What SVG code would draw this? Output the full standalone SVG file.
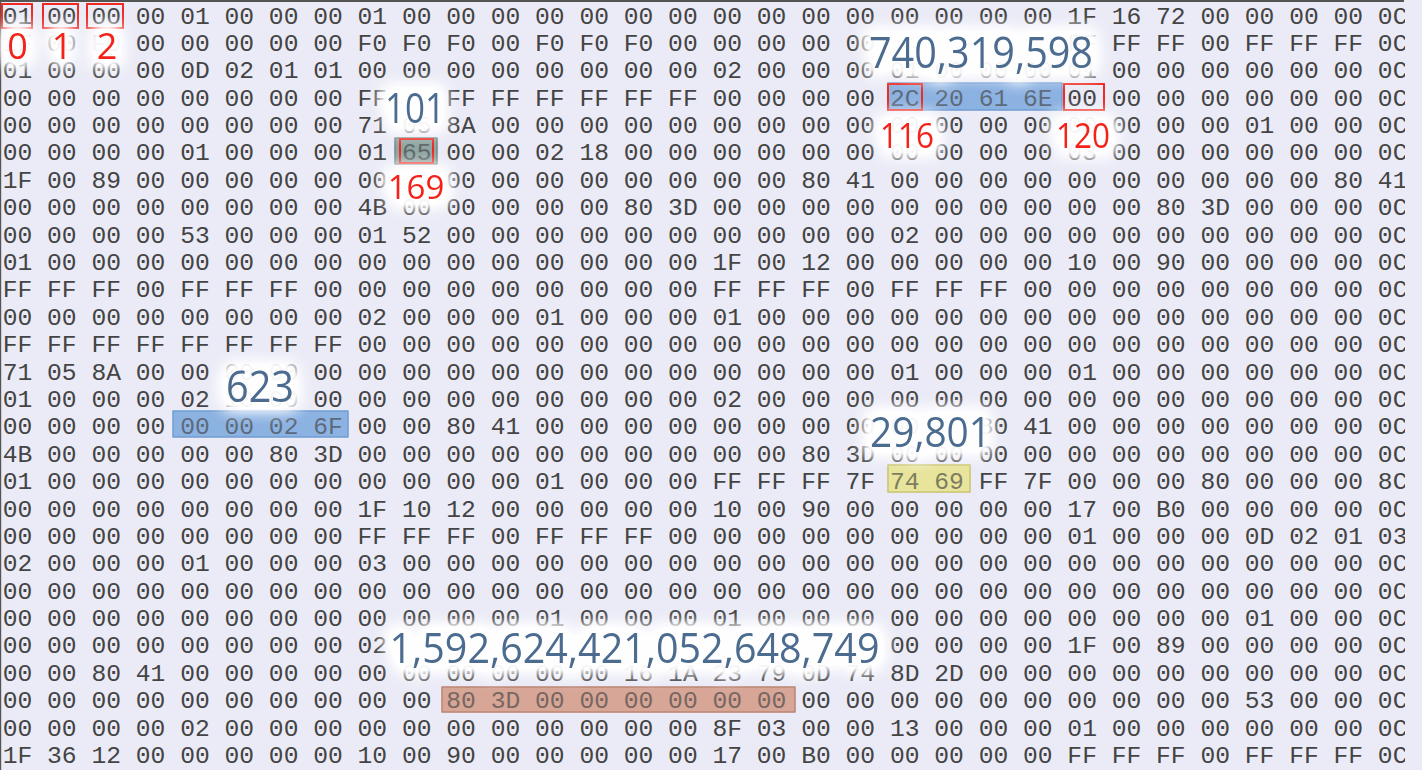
<svg xmlns="http://www.w3.org/2000/svg" width="1422" height="770" viewBox="0 0 1422 770">
  <style>
    .hex { font-family: "Liberation Mono", "DejaVu Sans Mono", monospace; font-size: 24.65px; fill: #444444; }
    .lbl { font-family: "Open Sans", "Noto Sans", "Liberation Sans", sans-serif; text-anchor: middle; }
    .blue { fill: #4b6b8f; }
    .red { fill: #f3231a; }
    .rbox { fill: none; stroke: #ee2a22; stroke-width: 2; }
    .hlBlue { fill: #8cb3e2; stroke: #6f9bd1; stroke-width: 1; }
    .hlGray { fill: #8fa6a4; stroke: #6f8785; stroke-width: 1; }
    .hlYel { fill: #e8e49c; stroke: #c8c26a; stroke-width: 1; }
    .hlBrn { fill: #d7a797; stroke: #b9826f; stroke-width: 1; }
    .tint { fill-opacity: 0.35; }
  </style>
  <defs>
    <clipPath id="clipHex">
      <rect x="0" y="0" width="1405" height="770"/>
    </clipPath>
    <filter id="halo" x="-100%" y="-100%" width="300%" height="300%" color-interpolation-filters="sRGB">
      <feMorphology in="SourceAlpha" operator="dilate" radius="7" result="d"/>
      <feGaussianBlur in="d" stdDeviation="8" result="b"/>
      <feComponentTransfer in="b" result="b2">
        <feFuncA type="linear" slope="1.7"/>
      </feComponentTransfer>
      <feFlood flood-color="#ffffff" flood-opacity="0.95"/>
      <feComposite in2="b2" operator="in" result="w"/>
      <feMerge>
        <feMergeNode in="w"/>
        <feMergeNode in="SourceGraphic"/>
      </feMerge>
    </filter>
  </defs>

  <!-- background and frame -->
  <rect id="background" x="0" y="0" width="1422" height="770" fill="#ebebf7"/>
  <rect id="frame-top" x="0" y="0" width="1404" height="2" fill="#555555"/>
  <rect id="frame-left" x="0" y="0" width="1.2" height="770" fill="#555555"/>

  <!-- highlight fills (under text) -->
  <g id="highlight-fills">
    <rect class="hlBlue" x="888" y="83" width="174" height="27"/>
    <rect class="hlGray" x="395" y="138" width="42" height="26"/>
    <rect class="hlBlue" x="173" y="411" width="175" height="26"/>
    <rect class="hlYel" x="888" y="465" width="82" height="27"/>
    <rect class="hlBrn" x="442" y="687" width="353" height="25"/>
  </g>

  <!-- hex dump rows -->
  <g id="hex-rows" class="hex" clip-path="url(#clipHex)">
    <text x="2.71" y="23.5" xml:space="preserve">01 00 00 00 01 00 00 00 01 00 00 00 00 00 00 00 00 00 00 00 00 00 00 00 1F 16 72 00 00 00 00 0C</text>
    <text x="2.71" y="50.89" xml:space="preserve">1F 00 F0 00 00 00 00 00 F0 F0 F0 00 F0 F0 F0 00 00 00 00 00             FF FF FF 00 FF FF FF 0C</text>
    <text x="2.71" y="78.28" xml:space="preserve">01 00 00 00 0D 02 01 01 00 00 00 00 00 00 00 00 02 00 00 00 01 00 00 00 01 00 00 00 00 00 00 0C</text>
    <text x="2.71" y="105.67" xml:space="preserve">00 00 00 00 00 00 00 00 FF    FF FF FF FF FF FF 00 00 00 00 2C 20 61 6E 00 00 00 00 00 00 00 0C</text>
    <text x="2.71" y="133.06" xml:space="preserve">00 00 00 00 00 00 00 00 71 05 8A 00 00 00 00 00 00 00 00 00 00 00 00 00 00 00 00 00 01 00 00 0C</text>
    <text x="2.71" y="160.45" xml:space="preserve">00 00 00 00 01 00 00 00 01 65 00 00 02 18 00 00 00 00 00 00 00 00 00 00 03 00 00 00 00 00 00 0C</text>
    <text x="2.71" y="187.84" xml:space="preserve">1F 00 89 00 00 00 00 00 00    00 00 00 00 00 00 00 00 80 41 00 00 00 00 00 00 00 00 00 00 80 41</text>
    <text x="2.71" y="215.23" xml:space="preserve">00 00 00 00 00 00 00 00 4B 00 00 00 00 00 80 3D 00 00 00 00 00 00 00 00 00 00 80 3D 00 00 00 0C</text>
    <text x="2.71" y="242.62" xml:space="preserve">00 00 00 00 53 00 00 00 01 52 00 00 00 00 00 00 00 00 00 00 02 00 00 00 00 00 00 00 00 00 00 0C</text>
    <text x="2.71" y="270.01" xml:space="preserve">01 00 00 00 00 00 00 00 00 00 00 00 00 00 00 00 1F 00 12 00 00 00 00 00 10 00 90 00 00 00 00 0C</text>
    <text x="2.71" y="297.4" xml:space="preserve">FF FF FF 00 FF FF FF 00 00 00 00 00 00 00 00 00 FF FF FF 00 FF FF FF 00 00 00 00 00 00 00 00 0C</text>
    <text x="2.71" y="324.79" xml:space="preserve">00 00 00 00 00 00 00 00 02 00 00 00 01 00 00 00 01 00 00 00 00 00 00 00 00 00 00 00 00 00 00 0C</text>
    <text x="2.71" y="352.18" xml:space="preserve">FF FF FF FF FF FF FF FF 00 00 00 00 00 00 00 00 00 00 00 00 00 00 00 00 00 00 00 00 00 00 00 0C</text>
    <text x="2.71" y="379.57" xml:space="preserve">71 05 8A 00 00 00 00 00 00 00 00 00 00 00 00 00 00 00 00 00 01 00 00 00 01 00 00 00 00 00 00 0C</text>
    <text x="2.71" y="406.96" xml:space="preserve">01 00 00 00 02 10 00 00 00 00 00 00 00 00 00 00 02 00 00 00 00 00 00 00 00 00 00 00 00 00 00 0C</text>
    <text x="2.71" y="434.35" xml:space="preserve">00 00 00 00 00 00 02 6F 00 00 80 41 00 00 00 00 00 00 00 00 00    80 41 00 00 00 00 00 00 00 0C</text>
    <text x="2.71" y="461.74" xml:space="preserve">4B 00 00 00 00 00 80 3D 00 00 00 00 00 00 00 00 00 00 80 3D 00 00 00 00 00 00 00 00 00 00 00 0C</text>
    <text x="2.71" y="489.13" xml:space="preserve">01 00 00 00 00 00 00 00 00 00 00 00 01 00 00 00 FF FF FF 7F 74 69 FF 7F 00 00 00 80 00 00 00 8C</text>
    <text x="2.71" y="516.52" xml:space="preserve">00 00 00 00 00 00 00 00 1F 10 12 00 00 00 00 00 10 00 90 00 00 00 00 00 17 00 B0 00 00 00 00 0C</text>
    <text x="2.71" y="543.91" xml:space="preserve">00 00 00 00 00 00 00 00 FF FF FF 00 FF FF FF 00 00 00 00 00 00 00 00 00 01 00 00 00 0D 02 01 03</text>
    <text x="2.71" y="571.3" xml:space="preserve">02 00 00 00 01 00 00 00 03 00 00 00 00 00 00 00 00 00 00 00 00 00 00 00 00 00 00 00 00 00 00 0C</text>
    <text x="2.71" y="598.69" xml:space="preserve">00 00 00 00 00 00 00 00 00 00 00 00 00 00 00 00 00 00 00 00 00 00 00 00 00 00 00 00 00 00 00 0C</text>
    <text x="2.71" y="626.08" xml:space="preserve">00 00 00 00 00 00 00 00 00 00 00 00 01 00 00 00 01 00 00 00 00 00 00 00 00 00 00 00 01 00 00 0C</text>
    <text x="2.71" y="653.47" xml:space="preserve">00 00 00 00 00 00 00 00 02                                  00 00 00 00 1F 00 89 00 00 00 00 0C</text>
    <text x="2.71" y="680.86" xml:space="preserve">00 00 80 41 00 00 00 00 00 00 00 00 00 00 16 1A 23 79 0D 74 8D 2D 00 00 00 00 00 00 00 00 00 0C</text>
    <text x="2.71" y="708.25" xml:space="preserve">00 00 00 00 00 00 00 00 00 00 80 3D 00 00 00 00 00 00 00 00 00 00 00 00 00 00 00 00 53 00 00 0C</text>
    <text x="2.71" y="735.64" xml:space="preserve">00 00 00 00 02 00 00 00 00 00 00 00 00 00 00 00 8F 03 00 00 13 00 00 00 01 00 00 00 00 00 00 0C</text>
    <text x="2.71" y="763.03" xml:space="preserve">1F 36 12 00 00 00 00 00 10 00 90 00 00 00 00 00 17 00 B0 00 00 00 00 00 FF FF FF 00 FF FF FF 0C</text>
  </g>

  <!-- highlight tints (over text) -->
  <g id="highlight-tints" class="tint">
    <rect class="hlBlue" x="888" y="83" width="174" height="27"/>
    <rect class="hlGray" x="395" y="138" width="42" height="26"/>
    <rect class="hlBlue" x="173" y="411" width="175" height="26"/>
    <rect class="hlYel" x="888" y="465" width="82" height="27"/>
    <rect class="hlBrn" x="442" y="687" width="353" height="25"/>
  </g>

  <!-- red marker boxes -->
  <g id="red-boxes" class="rbox">
    <rect x="2" y="4" width="30" height="24"/>
    <rect x="43" y="4" width="35" height="24"/>
    <rect x="87" y="4" width="36" height="24"/>
    <rect x="400" y="139" width="33" height="24"/>
    <rect x="888" y="84" width="34" height="26"/>
    <rect x="1064" y="84" width="40" height="26"/>
  </g>

  <!-- annotation labels -->
  <g id="labels" class="lbl" filter="url(#halo)">
    <text class="red" x="17.5" y="59" font-size="36">0</text>
    <text class="red" x="62" y="59" font-size="36">1</text>
    <text class="red" x="107" y="59" font-size="36">2</text>
  </g>
  <g id="label-101" class="lbl" filter="url(#halo)">
    <text class="blue" x="415" y="123" font-size="42" textLength="60" lengthAdjust="spacingAndGlyphs">101</text>
  </g>
  <g id="label-169" class="lbl" filter="url(#halo)">
    <text class="red" x="416" y="199" font-size="33">169</text>
  </g>
  <g id="label-740319598" class="lbl" filter="url(#halo)">
    <text class="blue" x="981" y="68" font-size="43" textLength="224" lengthAdjust="spacingAndGlyphs">740,319,598</text>
  </g>
  <g id="label-116" class="lbl" filter="url(#halo)">
    <text class="red" x="907" y="148" font-size="35" textLength="54" lengthAdjust="spacingAndGlyphs">116</text>
  </g>
  <g id="label-120" class="lbl" filter="url(#halo)">
    <text class="red" x="1083" y="148" font-size="35" textLength="54" lengthAdjust="spacingAndGlyphs">120</text>
  </g>
  <g id="label-623" class="lbl" filter="url(#halo)">
    <text class="blue" x="260" y="401.5" font-size="43" textLength="68" lengthAdjust="spacingAndGlyphs">623</text>
  </g>
  <g id="label-29801" class="lbl" filter="url(#halo)">
    <text class="blue" x="930.5" y="447" font-size="42" textLength="121" lengthAdjust="spacingAndGlyphs">29,801</text>
  </g>
  <g id="label-big" class="lbl" filter="url(#halo)">
    <text class="blue" x="634.5" y="663" font-size="42" textLength="490" lengthAdjust="spacingAndGlyphs">1,592,624,421,052,648,749</text>
  </g>
</svg>
